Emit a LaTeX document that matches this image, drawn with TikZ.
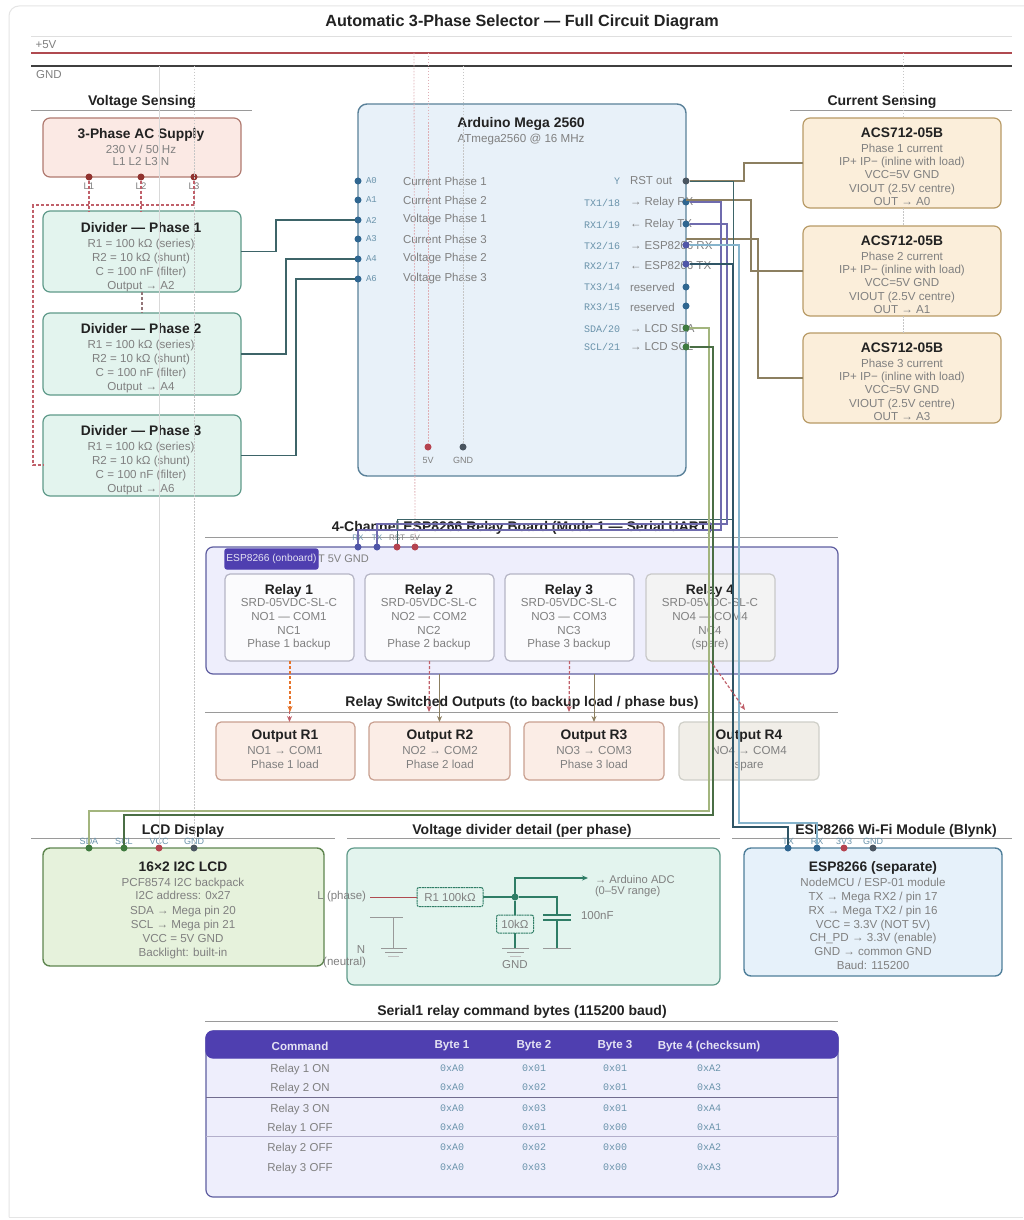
\documentclass[tikz,border=0pt]{standalone}
\usepackage{fontspec}
\setmainfont{Liberation Sans}
\setmonofont{Liberation Mono}
\usetikzlibrary{arrows.meta,calc}
\definecolor{tdark}{HTML}{222222}
\definecolor{tgray}{HTML}{808080}
\definecolor{tmono}{HTML}{6A93AB}
\definecolor{secl}{HTML}{9A9A9A}
\definecolor{redw}{HTML}{C0606A}
\definecolor{pinblue}{HTML}{2F6690}
\definecolor{pinred}{HTML}{B5434F}
\definecolor{pindark}{HTML}{4A5560}
\definecolor{pingreen}{HTML}{3F7A3F}
\definecolor{pinpurp}{HTML}{4F55A8}
\definecolor{indig}{HTML}{4F3FB0}
\definecolor{rail5}{HTML}{B04A50}
\definecolor{railg}{HTML}{3F3F3F}
\definecolor{wdk}{HTML}{3D6468}
\definecolor{wol}{HTML}{8C7F60}
\definecolor{wpu}{HTML}{6F6BAE}
\definecolor{wlb}{HTML}{86B4CC}
\definecolor{wdb}{HTML}{2F5566}
\definecolor{wlg}{HTML}{A3B57E}
\definecolor{wdg}{HTML}{4A6E45}
\definecolor{acd}{HTML}{B07A70}\definecolor{acf}{HTML}{FBE9E4}
\definecolor{dvd}{HTML}{5F9A8A}\definecolor{dvf}{HTML}{E3F4EE}
\definecolor{mgd}{HTML}{5A8199}\definecolor{mgf}{HTML}{E8F1F9}
\definecolor{csd}{HTML}{B89B66}\definecolor{csf}{HTML}{FBEEDA}
\definecolor{rbd}{HTML}{5F5EA0}\definecolor{rbf}{HTML}{EEEEFC}
\definecolor{ryd}{HTML}{B5B5C5}\definecolor{ryf}{HTML}{FBFBFD}
\definecolor{spd}{HTML}{C8C8C8}\definecolor{spf}{HTML}{F3F3F3}
\definecolor{oud}{HTML}{C9A090}\definecolor{ouf}{HTML}{FBEDE6}
\definecolor{od4}{HTML}{CFCFC8}\definecolor{of4}{HTML}{F1EEE8}
\definecolor{lcd}{HTML}{5F8650}\definecolor{lcf}{HTML}{E6F2DC}
\definecolor{esd}{HTML}{4F7F9A}\definecolor{esf}{HTML}{E6F1FA}
\definecolor{cgw}{HTML}{2F7D66}
\newcounter{tn}
\newcommand\tx[4][]{\stepcounter{tn}\node[lbl,#1] (t\thetn) at (#2,#3) {#4};}
\newcommand\bx[6]{\node[#1,anchor=north west,minimum width=#5pt,minimum height=#6pt] (#2) at (#3,#4) {};}
\newcommand\tb[5][2.2pt]{\stepcounter{tn}\node[bt] (t\thetn) at (#2,#3) {{\fontsize{13.8}{13.7}\selectfont\bfseries\color{tdark}#4}\\[#1]#5};}
\newcommand\pin[4]{\node[pinn,fill=#4] (#1) at (#2,#3) {};}
\tikzset{
 x=1pt,y=-1pt,
 lbl/.style={inner sep=0,outer sep=0,text=tgray,font=\fontsize{11.5}{13}\selectfont},
 bt/.style={inner sep=0,outer sep=0,anchor=north,align=center,text=tgray,font=\fontsize{11.6}{13.7}\selectfont},
 sect/.style={lbl,text=tdark,yshift=-1.5pt,font=\fontsize{14}{16}\selectfont\bfseries},
 pl/.style={lbl,font=\fontsize{9}{10}\selectfont},
 plm/.style={lbl,text=tmono,font=\fontsize{10}{11}\selectfont\ttfamily},
 secline/.style={draw=secl,line width=.8pt},
 base/.style={rounded corners=7pt,line width=1.2pt,inner sep=0,outer sep=0},
 acb/.style={base,draw=acd,fill=acf},
 dvb/.style={base,draw=dvd,fill=dvf},
 mgb/.style={base,draw=mgd,fill=mgf,line width=1.4pt,rounded corners=9pt},
 csb/.style={base,draw=csd,fill=csf},
 rbb/.style={base,draw=rbd,fill=rbf},
 ryb/.style={base,draw=ryd,fill=ryf,rounded corners=5pt},
 spb/.style={base,draw=spd,fill=spf,rounded corners=5pt},
 oub/.style={base,draw=oud,fill=ouf,rounded corners=5pt},
 o4b/.style={base,draw=od4,fill=of4,rounded corners=5pt},
 lcb/.style={base,draw=lcd,fill=lcf,line width=1.4pt},
 esb/.style={base,draw=esd,fill=esf,line width=1.4pt},
 chipb/.style={base,fill=indig,rounded corners=2pt,draw=indig},
 headb/.style={base,fill=indig,draw=indig},
 pinn/.style={circle,inner sep=0,outer sep=0,minimum size=7pt},
 wdark/.style={draw=wdk,line width=1.2pt},
 wolive/.style={draw=wol,line width=1.2pt},
 wpurp/.style={draw=wpu,line width=1.3pt},
 wred/.style={draw=redw,line width=1.2pt,dash pattern=on 3pt off 2pt},
 wfaint/.style={draw=gray!45,line width=.8pt,dash pattern=on 1.5pt off 1.5pt},
 wfred/.style={draw=redw!50,line width=.8pt,dash pattern=on 1.5pt off 1.5pt},
 tip/.style={-{Stealth[length=6pt,width=5pt]}},
 comp/.style={draw=cgw,fill=dvf,line width=1pt,dash pattern=on 2pt off .6pt,rounded corners=2pt,inner sep=0,outer sep=0,text=tgray,font=\fontsize{11.5}{13}\selectfont},
 gw/.style={draw=cgw,line width=1.2pt},
 gl/.style={draw=gray!80,line width=.9pt},
}
\begin{document}
\begin{tikzpicture}
\useasboundingbox (0,0) rectangle (1023,1220);
\fill[white] (0,0) rectangle (1023,1220);
\draw[gray!20,line width=1pt,rounded corners=10pt] (9,1217) -- (9,6) -- (1030,6);
\draw[gray!20,line width=1pt] (9,1217) -- (1023,1217);
\tx[text=tdark,font=\fontsize{16.2}{18}\selectfont\bfseries]{522}{22}{Automatic 3-Phase Selector — Full Circuit Diagram}
% rails
\draw[gray!25,line width=.7pt] (31,36) -- (1012,36);
\draw[draw=rail5,line width=1.3pt] (31,53) -- (1012,53);
\draw[draw=railg,line width=1.3pt] (31,66) -- (1012,66);
\tx{46}{45}{+5V}
\tx{49}{75}{GND}
% section headings
\tx[sect]{142}{100}{Voltage Sensing}\draw[secline] (31,110) -- (252,110);
\tx[sect]{882}{100}{Current Sensing}\draw[secline] (790,110) -- (1012,110);
% boxes
\bx{acb}{ac}{43}{118}{198}{59}
\bx{dvb}{d1}{43}{211}{198}{81}
\bx{dvb}{d2}{43}{313}{198}{82}
\bx{dvb}{d3}{43}{415}{198}{81}
\bx{mgb}{mega}{358}{104}{328}{372}
\bx{csb}{cs1}{803}{118}{198}{90}
\bx{csb}{cs2}{803}{226}{198}{90}
\bx{csb}{cs3}{803}{333}{198}{90}
\bx{rbb}{board}{206}{547}{632}{127}
\bx{chipb}{chip}{225}{549}{93}{20}
\bx{ryb}{r1}{225}{574}{129}{87}
\bx{ryb}{r2}{365}{574}{129}{87}
\bx{ryb}{r3}{505}{574}{129}{87}
\bx{spb}{r4}{646}{574}{129}{87}
\bx{oub}{o1}{216}{722}{139}{58}
\bx{oub}{o2}{369}{722}{141}{58}
\bx{oub}{o3}{524}{722}{140}{58}
\bx{o4b}{o4}{679}{722}{140}{58}
\bx{lcb}{lcd}{43}{848}{281}{118}
\bx{dvb}{detail}{347}{848}{373}{137}
\bx{esb}{esp}{744}{848}{258}{128}
\bx{rbb}{tab}{206}{1031}{632}{166}
\bx{headb}{tabh}{206}{1031}{632}{27}
% section headings that sit on wires
\tx[sect]{522}{526}{4-Channel ESP8266 Relay Board (Mode 1 — Serial UART)}\draw[secline] (205,537) -- (838,537);
\tx[sect]{522}{701}{Relay Switched Outputs (to backup load / phase bus)}\draw[secline] (205,712) -- (838,712);
\tx[sect]{183}{829}{LCD Display}\draw[secline] (31,838) -- (335,838);
\tx[sect]{522}{829}{Voltage divider detail (per phase)}\draw[secline] (347,838) -- (720,838);
\tx[sect]{896}{829}{ESP8266 Wi-Fi Module (Blynk)}\draw[secline] (732,838) -- (1012,838);
\tx[sect]{522}{1010}{Serial1 relay command bytes (115200 baud)}\draw[secline] (205,1021) -- (838,1021);
% box texts
\tb[0.6pt]{141}{129}{3-Phase AC Supply}{230 V / 50 Hz\\[-1.5pt]L1 L2 L3 N}
\tb{141}{222}{Divider — Phase 1}{R1 = 100 kΩ (series)\\R2 = 10 kΩ (shunt)\\C = 100 nF (filter)\\Output → A2}
\tb{141}{323}{Divider — Phase 2}{R1 = 100 kΩ (series)\\R2 = 10 kΩ (shunt)\\C = 100 nF (filter)\\Output → A4}
\tb{141}{425}{Divider — Phase 3}{R1 = 100 kΩ (series)\\R2 = 10 kΩ (shunt)\\C = 100 nF (filter)\\Output → A6}
\tb[1.2pt]{902}{128}{ACS712-05B}{Phase 1 current\\[-.5pt]IP+ IP− (inline with load)\\[-.5pt]VCC=5V GND\\[-.5pt]VIOUT (2.5V centre)\\[-.5pt]OUT → A0}
\tb[1.2pt]{902}{236}{ACS712-05B}{Phase 2 current\\[-.5pt]IP+ IP− (inline with load)\\[-.5pt]VCC=5V GND\\[-.5pt]VIOUT (2.5V centre)\\[-.5pt]OUT → A1}
\tb[1.2pt]{902}{343}{ACS712-05B}{Phase 3 current\\[-.5pt]IP+ IP− (inline with load)\\[-.5pt]VCC=5V GND\\[-.5pt]VIOUT (2.5V centre)\\[-.5pt]OUT → A3}
\tb[-1pt]{289}{584}{Relay 1}{SRD-05VDC-SL-C\\NO1 — COM1\\NC1\\Phase 1 backup}
\tb[-1pt]{429}{584}{Relay 2}{SRD-05VDC-SL-C\\NO2 — COM2\\NC2\\Phase 2 backup}
\tb[-1pt]{569}{584}{Relay 3}{SRD-05VDC-SL-C\\NO3 — COM3\\NC3\\Phase 3 backup}
\tb[-1pt]{710}{584}{Relay 4}{SRD-05VDC-SL-C\\NO4 — COM4\\NC4\\(spare)}
\tb[1.5pt]{285}{729.5}{Output R1}{NO1 → COM1\\Phase 1 load}
\tb[1.5pt]{440}{729.5}{Output R2}{NO2 → COM2\\Phase 2 load}
\tb[1.5pt]{594}{729.5}{Output R3}{NO3 → COM3\\Phase 3 load}
\tb[1.5pt]{749}{729.5}{Output R4}{NO4 → COM4\\spare}
\tb[1.2pt]{183}{861.5}{16×2 I2C LCD}{PCF8574 I2C backpack\\I2C address: 0x27\\[1.5pt]SDA → Mega pin 20\\SCL → Mega pin 21\\VCC = 5V GND\\Backlight: built-in}
\tb{873}{861}{ESP8266 (separate)}{NodeMCU / ESP-01 module\\TX → Mega RX2 / pin 17\\RX → Mega TX2 / pin 16\\VCC = 3.3V (NOT 5V)\\CH\_PD → 3.3V (enable)\\GND → common GND\\Baud: 115200}
% Mega text
\tx[text=tdark,font=\fontsize{13.9}{15}\selectfont\bfseries]{521}{123.5}{Arduino Mega 2560}
\tx[font=\fontsize{11.6}{13}\selectfont]{521}{139.5}{ATmega2560 @ 16 MHz}
\foreach \nm/\y/\ds in {A0/181/Current Phase 1,A1/200/Current Phase 2,A2/220/Voltage Phase 1,A3/239/Current Phase 3,A4/259/Voltage Phase 2,A6/279/Voltage Phase 3}{
 \tx[plm,anchor=west,font=\fontsize{9}{10}\selectfont\ttfamily]{366}{\y}{\nm}
 \tx[anchor=west]{403}{\y}{\ds}
}
\tx[plm,anchor=east]{620}{181}{Y}
\tx[anchor=west]{630}{181}{RST out}
\tx[plm,anchor=east]{620}{203}{TX1/18}\tx[anchor=west]{630}{203}{→ Relay RX}
\tx[plm,anchor=east]{620}{225}{RX1/19}\tx[anchor=west]{630}{225}{← Relay TX}
\tx[plm,anchor=east]{620}{246}{TX2/16}\tx[anchor=west]{630}{246}{→ ESP8266 RX}
\tx[plm,anchor=east]{620}{266}{RX2/17}\tx[anchor=west]{630}{266}{← ESP8266 TX}
\tx[plm,anchor=east]{620}{287}{TX3/14}\tx[anchor=west]{630}{287}{reserved}
\tx[plm,anchor=east]{620}{307}{RX3/15}\tx[anchor=west]{630}{307}{reserved}
\tx[plm,anchor=east]{620}{329}{SDA/20}\tx[anchor=west]{630}{329}{→ LCD SDA}
\tx[plm,anchor=east]{620}{347}{SCL/21}\tx[anchor=west]{630}{347}{→ LCD SCL}
\tx[pl]{428}{460}{5V}\tx[pl]{463}{460}{GND}
% pins
\pin{l1}{89}{177}{acd!60!red!70!black}\pin{l2}{141}{177}{acd!60!red!70!black}\pin{l3}{194}{177}{acd!60!red!70!black}
\tx[pl,font=\fontsize{9.5}{10}\selectfont]{89}{186}{L1}\tx[pl,font=\fontsize{9.5}{10}\selectfont]{141}{186}{L2}\tx[pl,font=\fontsize{9.5}{10}\selectfont]{194}{186}{L3}
\pin{a0}{358}{181}{pinblue}\pin{a1}{358}{200}{pinblue}\pin{a2}{358}{220}{pinblue}
\pin{a3}{358}{239}{pinblue}\pin{a4}{358}{259}{pinblue}\pin{a6}{358}{279}{pinblue}
\pin{rst}{686}{181}{pindark}\pin{tx1}{686}{202}{pinblue}\pin{rx1}{686}{224}{pinblue}
\pin{tx2}{686}{245}{pinpurp}\pin{rx2}{686}{264}{pinpurp}\pin{tx3}{686}{287}{pinblue}\pin{rx3}{686}{306}{pinblue}
\pin{sda}{686}{328}{pingreen}\pin{scl}{686}{347}{pingreen}
\pin{m5v}{428}{447}{pinred}\pin{mgnd}{463}{447}{pindark}
\pin{brx}{358}{547}{pinpurp}\pin{btx}{377}{547}{pinpurp}\pin{brst}{397}{547}{pinred}\pin{b5v}{415}{547}{pinred}
\tx[pl,text=tmono,font=\fontsize{8}{9}\selectfont]{358}{538}{RX}\tx[pl,text=tmono,font=\fontsize{8}{9}\selectfont]{377}{538}{TX}
\tx[pl,font=\fontsize{8}{9}\selectfont]{397}{538}{RST}\tx[pl,font=\fontsize{8}{9}\selectfont]{415}{538}{5V}
\pin{lsda}{89}{848}{pingreen}\pin{lscl}{124}{848}{pingreen}\pin{lvcc}{159}{848}{pinred}\pin{lgnd}{194}{848}{pindark}
\tx[pl,text=tmono]{89}{841}{SDA}\tx[pl,text=tmono]{124}{841}{SCL}\tx[pl,text=tmono]{159}{841}{VCC}\tx[pl,text=tmono]{194}{841}{GND}
\pin{etx}{788}{848}{pinblue}\pin{erx}{817}{848}{pinblue}\pin{e33}{844}{848}{pinred}\pin{egnd}{873}{848}{pindark}
\tx[pl,text=tmono]{788}{841}{TX}\tx[pl,text=tmono]{817}{841}{RX}\tx[pl,text=tmono]{844}{841}{3V3}\tx[pl,text=tmono]{873}{841}{GND}
% chip text
\tx[text=white!85!indig,font=\fontsize{10.2}{11}\selectfont]{271.5}{559}{ESP8266 (onboard)}
\tx[anchor=west,font=\fontsize{11}{12}\selectfont]{318}{559}{T 5V GND}
% faint power drops
\coordinate (r5a) at (414,53);\coordinate (r5b) at (428,53);\coordinate (rga) at (463,66);
\coordinate (rgb) at (159,66);\coordinate (rgc) at (194,66);\coordinate (rgd) at (903,66);\coordinate (r5d) at (903,53);
\draw[wfred] (r5a) -- (b5v);
\draw[wfred] (r5b) -- (m5v);
\draw[wfaint] (rga) -- (mgnd);
\draw[draw=gray!30,line width=.8pt] (rgb) -- (lvcc);
\draw[wfaint] (rgc) -- (lgnd);
\draw[wfaint] (r5d) -- (cs1.north -| r5d);
\draw[wfaint] (cs1.south -| r5d) -- (cs2.north -| r5d);
\draw[wfaint] (cs2.south -| r5d) -- (cs3.north -| r5d);
% phases
\draw[wred] (l1) -- (l1 |- d1.north);
\draw[wred] (l2) -- (l2 |- d1.north);
\draw[wred] (l3) -- (194,205) -- (33,205) -- (33,465) -- (d3.west |- 33,465);
\draw[wred,draw=gray!70!redw] (d1.south) -- (d2.north);
% dividers to mega
\draw[wdark] (d1.east) -| (276,220) -- (a2);
\draw[wdark] (d2.east) -| (286,259) -- (a4);
\draw[wdark] (d3.east) -| (296,279) -- (a6);
% current sensors
\coordinate (pa1) at (686,200);\coordinate (pa3) at (686,239);
\draw[wolive] (cs1.west) -| (744,181) -- (rst);
\draw[wolive] (cs2.west) -| (751,200) -- (pa1);
\draw[wolive] (cs3.west) -| (758,239) -- (pa3);
% relay serial
\draw[wdark,line width=1pt] (rst) -- (733,181) -- (733,519) -- (397,519) -- (brst);
\draw[wpurp] (tx1) -- (721,202) -- (721,530) -- (358,530) -- (brx);
\draw[wpurp] (rx1) -- (727,224) -- (727,524) -- (377,524) -- (btx);
% esp serial
\draw[draw=wlb,line width=2.2pt] (tx2) -- (739,245) -- (739,823) -- (817,823) -- (erx);
\draw[draw=wdb,line width=1.2pt] (rx2) -- (733,264) -- (733,827) -- (788,827) -- (etx);
% lcd i2c
\draw[draw=wlg,line width=1.4pt] (sda) -- (709,328) -- (709,811) -- (89,811) -- (lsda);
\draw[draw=wdg,line width=1.3pt] (scl) -- (713,347) -- (713,815) -- (124,815) -- (lscl);
% relay outputs
\draw[wred,tip] (r1.south) -- (o1.north -| r1.south);
\draw[wred,draw=orange!60!redw,tip] (290,661) -- (290,712);
\draw[wred,tip] (r2.south) -- (429,712);
\draw[draw=wol,line width=1pt,tip] (board.south -| o2.north) -- (o2.north);
\draw[wred,tip] (r3.south) -- (569,712);
\draw[draw=wol,line width=1pt,tip] (board.south -| o3.north) -- (o3.north);
\draw[wred,tip] (r4.south) -- (745,710);
% divider detail
\tx[anchor=east]{366}{897}{L (phase)}
\node[comp,minimum width=66pt,minimum height=19pt] (cr1) at (450,897) {R1 100kΩ};
\node[comp,minimum width=37pt,minimum height=18pt] (cr2) at (515,924) {10kΩ};
\node[pinn,fill=cgw] (cj) at (515,897) {};
\coordinate (cl) at (370,897);
\draw[draw=rail5,line width=1pt] (cl) -- (cr1);
\draw[gw] (cr1) -- (cj);
\coordinate (cadc) at (588,878);
\draw[gw,tip] (cj) -- (515,878) -- (cadc);
\tx[anchor=west,font=\fontsize{11.2}{13}\selectfont]{595}{879}{→ Arduino ADC}
\tx[anchor=west,font=\fontsize{11.2}{13}\selectfont]{595}{892}{(0–5V range)}
\draw[gw] (cj) -- (cr2);
\coordinate (cg1) at (515,948);
\draw[gw] (cr2) -- (cg1);
\coordinate (cap) at (557,915);
\coordinate (cap2) at (557,920);
\coordinate (cg2) at (557,948);
\draw[gw] (cj) -- (557,897) -- (cap);
\draw[gw,line width=1.8pt] (543,915) -- (571,915);
\draw[gw,line width=1.8pt] (543,920) -- (571,920);
\draw[gw] (cap2) -- (cg2);
\draw[gl] (543,948) -- (571,948);
\draw[gl] (502,948) -- (529,948);
\draw[gl] (507,952) -- (524,952);
\draw[gl,draw=gray!50] (510,956) -- (521,956);
\tx{515}{965}{GND}
\tx[anchor=west]{581}{916}{100nF}
\draw[gl] (370,917) -- (403,917);
\coordinate (cn) at (393,917);\coordinate (cg3) at (393,948);
\draw[gl] (cn) -- (cg3);
\draw[gl] (381,948) -- (407,948);
\draw[gl] (385,952) -- (403,952);
\draw[gl,draw=gray!50] (388,956) -- (399,956);
\tx{361}{950}{N}
\tx[anchor=east]{366}{963}{(neutral)}
% table
\draw[draw=gray!70!indig,line width=.8pt] (206,1097) -- (838,1097);
\draw[draw=gray!50!indig!50!white,line width=.8pt] (206,1136) -- (838,1136);
\foreach \xx/\tt in {300/Command,452/Byte 1,534/Byte 2,615/Byte 3,709/Byte 4 (checksum)}{
 \tx[text=white!85!indig,font=\fontsize{11.6}{13}\selectfont\bfseries]{\xx}{1046}{\tt}
}
\foreach \yy/\cc/\ba/\bb/\bc in {1068/Relay 1 ON/0x01/0x01/0xA2,1087/Relay 2 ON/0x02/0x01/0xA3,1108/Relay 3 ON/0x03/0x01/0xA4,1127/Relay 1 OFF/0x01/0x00/0xA1,1147/Relay 2 OFF/0x02/0x00/0xA2,1167/Relay 3 OFF/0x03/0x00/0xA3}{
 \tx[yshift=-1.5pt]{300}{\yy}{\cc}
 \tx[plm]{452}{\yy}{0xA0}
 \tx[plm]{534}{\yy}{\ba}
 \tx[plm]{615}{\yy}{\bb}
 \tx[plm]{709}{\yy}{\bc}
}
\end{tikzpicture}
\end{document}
